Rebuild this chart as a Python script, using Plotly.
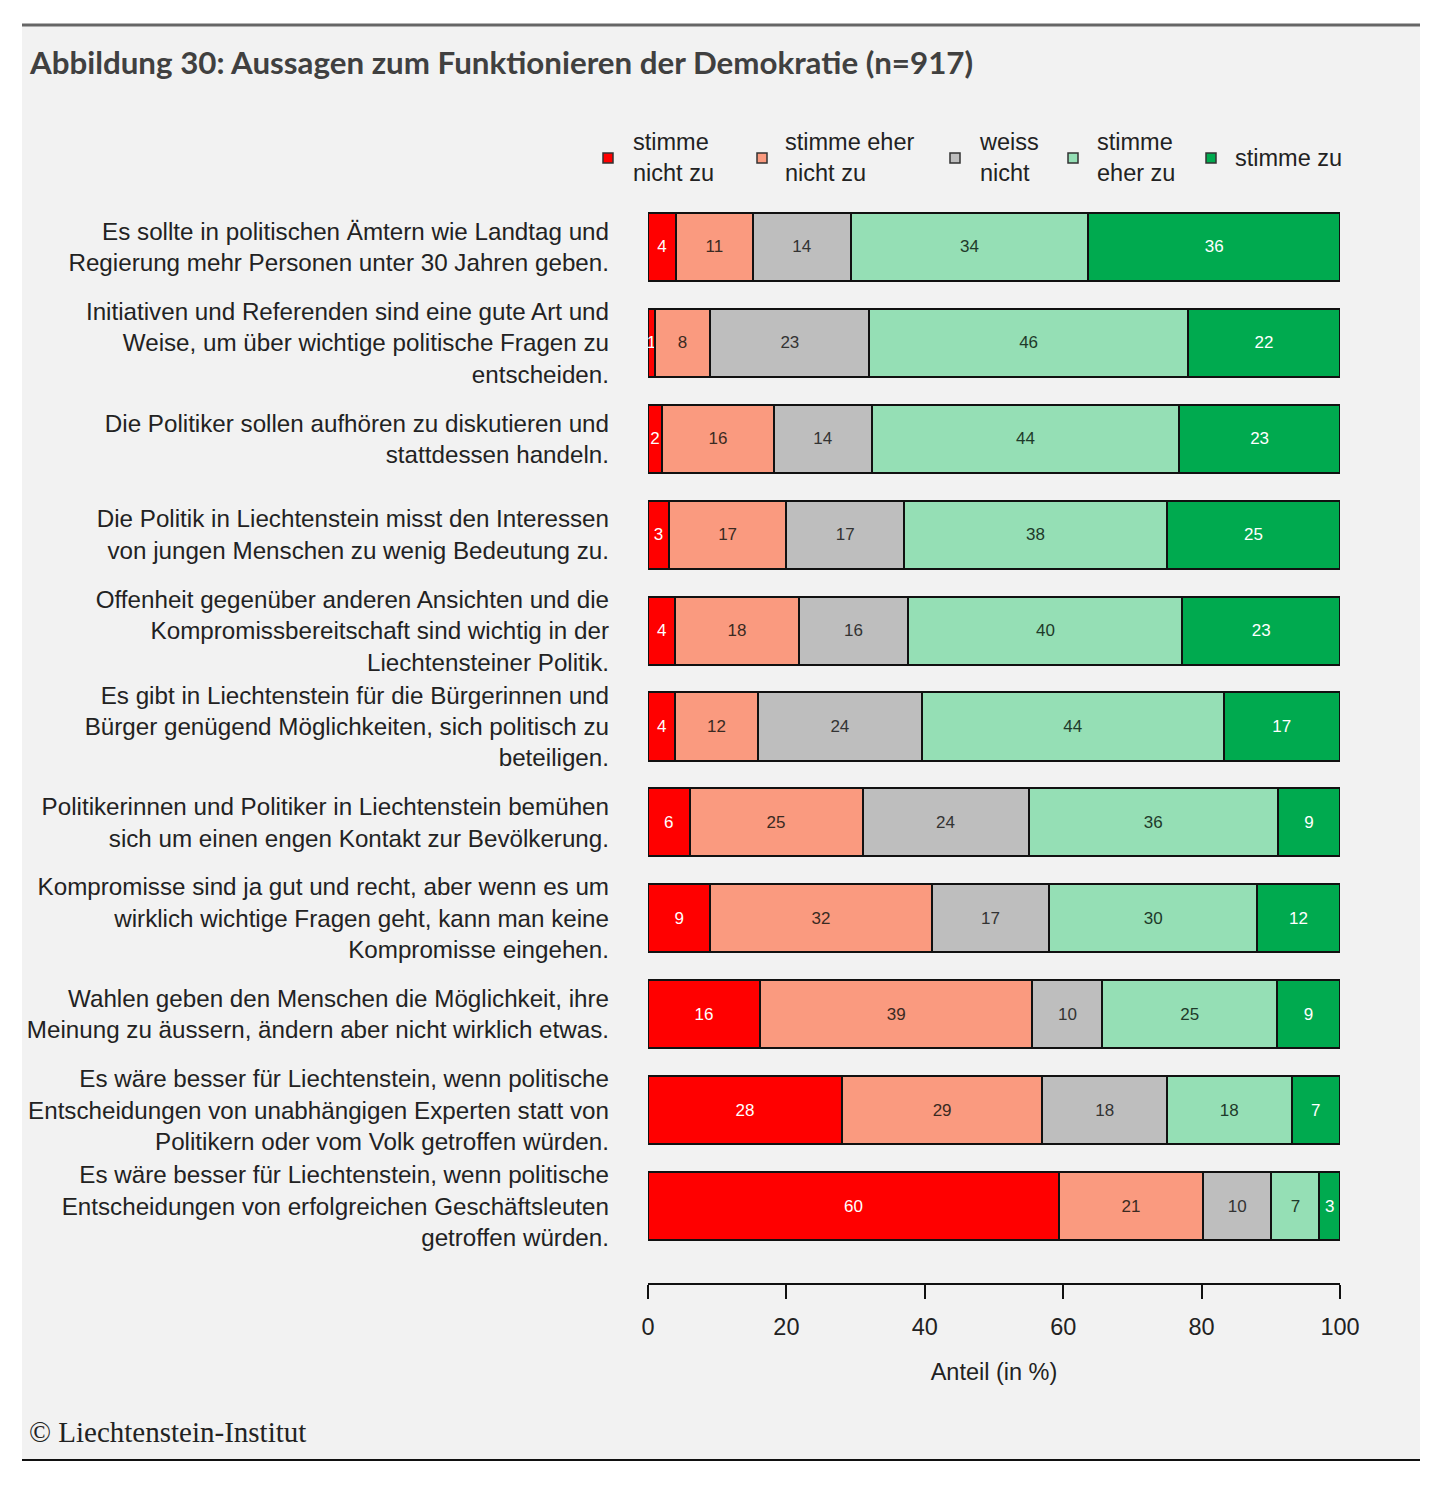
import plotly.graph_objects as go

statements = [
    "Es sollte in politischen Ämtern wie Landtag und<br>Regierung mehr Personen unter 30 Jahren geben.",
    "Initiativen und Referenden sind eine gute Art und<br>Weise, um über wichtige politische Fragen zu<br>entscheiden.",
    "Die Politiker sollen aufhören zu diskutieren und<br>stattdessen handeln.",
    "Die Politik in Liechtenstein misst den Interessen<br>von jungen Menschen zu wenig Bedeutung zu.",
    "Offenheit gegenüber anderen Ansichten und die<br>Kompromissbereitschaft sind wichtig in der<br>Liechtensteiner Politik.",
    "Es gibt in Liechtenstein für die Bürgerinnen und<br>Bürger genügend Möglichkeiten, sich politisch zu<br>beteiligen.",
    "Politikerinnen und Politiker in Liechtenstein bemühen<br>sich um einen engen Kontakt zur Bevölkerung.",
    "Kompromisse sind ja gut und recht, aber wenn es um<br>wirklich wichtige Fragen geht, kann man keine<br>Kompromisse eingehen.",
    "Wahlen geben den Menschen die Möglichkeit, ihre<br>Meinung zu äussern, ändern aber nicht wirklich etwas.",
    "Es wäre besser für Liechtenstein, wenn politische<br>Entscheidungen von unabhängigen Experten statt von<br>Politikern oder vom Volk getroffen würden.",
    "Es wäre besser für Liechtenstein, wenn politische<br>Entscheidungen von erfolgreichen Geschäftsleuten<br>getroffen würden.",
]

categories = ["stimme nicht zu", "stimme eher nicht zu", "weiss nicht", "stimme eher zu", "stimme zu"]
legend_labels = ["stimme<br>nicht zu", "stimme eher<br>nicht zu", "weiss<br>nicht", "stimme<br>eher zu", "stimme zu"]

stimme_nicht_zu      = [4, 1, 2, 3, 4, 4, 6, 9, 16, 28, 60]
stimme_eher_nicht_zu = [11, 8, 16, 17, 18, 12, 25, 32, 39, 29, 21]
weiss_nicht          = [14, 23, 14, 17, 16, 24, 24, 17, 10, 18, 10]
stimme_eher_zu       = [34, 46, 44, 38, 40, 44, 36, 30, 25, 18, 7]
stimme_zu            = [36, 22, 23, 25, 23, 17, 9, 12, 9, 7, 3]

series = [stimme_nicht_zu, stimme_eher_nicht_zu, weiss_nicht, stimme_eher_zu, stimme_zu]
colors = ["#ff0000", "#fa9a7f", "#bebebe", "#95dfb5", "#00aa4f"]
text_colors = ["white", "#3a2a22", "#333333", "#1e3a2a", "white"]

# rows are scaled to a full 100 % (rounded labels do not always add up to 100)
row_totals = [sum(v) for v in zip(*series)]

W, H = 1446, 1492
PX0, PX1 = 648, 1340
PY0, PY1 = 199, 1283

def px(x):
    return (x - PX0) / (PX1 - PX0)

def py(y):
    return (PY1 - y) / (PY1 - PY0)

fig = go.Figure()
ypos = list(range(len(statements)))
for name, vals, col, tcol in zip(categories, series, colors, text_colors):
    shares = [v / t * 100 for v, t in zip(vals, row_totals)]
    fig.add_trace(go.Bar(
        y=ypos, x=shares, orientation="h", name=name,
        marker=dict(color=col, line=dict(color="#111111", width=2)),
        width=0.71,
        text=[str(v) for v in vals],
        textposition="inside", insidetextanchor="middle",
        textfont=dict(family="Liberation Sans", size=17, color=tcol),
        showlegend=False, hoverinfo="skip",
    ))

fig.update_layout(
    width=W, height=H,
    barmode="stack",
    paper_bgcolor="white",
    plot_bgcolor="rgba(0,0,0,0)",
    margin=dict(l=PX0, r=W - PX1, t=PY0, b=H - PY1),
    uniformtext=dict(minsize=17, mode="show"),
    font=dict(family="Liberation Sans", color="#222222"),
    xaxis=dict(
        range=[0, 100], tickvals=[0, 20, 40, 60, 80, 100],
        showgrid=False, zeroline=False,
        showline=True, linecolor="#111111", linewidth=2,
        ticks="outside", ticklen=14, tickwidth=2, tickcolor="#111111",
        tickfont=dict(size=23.5, color="#222222"),
        ticklabelstandoff=8,
        title=dict(text="Anteil (in %)", font=dict(size=23.5, color="#222222"), standoff=24),
        fixedrange=True,
    ),
    yaxis=dict(
        range=[10.5 + 29 / 95.9, -0.5],
        tickvals=ypos, ticktext=statements,
        showgrid=False, zeroline=False, showline=False,
        ticks="", ticklabelstandoff=38,
        tickfont=dict(size=24.2, color="#222222"),
        fixedrange=True,
    ),
)

shapes = [
    dict(type="rect", xref="paper", yref="paper", x0=px(22), x1=px(1420), y0=py(1460), y1=py(25),
         fillcolor="#f2f2f2", line=dict(width=0), layer="below"),
    dict(type="line", xref="paper", yref="paper", x0=px(22), x1=px(1420), y0=py(25), y1=py(25),
         line=dict(color="#666666", width=3)),
    dict(type="line", xref="paper", yref="paper", x0=px(22), x1=px(1420), y0=py(1460), y1=py(1460),
         line=dict(color="#111111", width=2)),
]

annotations = [
    dict(text="<b>Abbildung 30: Aussagen zum Funktionieren der Demokratie (n=917)</b>",
         xref="paper", yref="paper", x=px(27), y=py(62), xanchor="left", yanchor="middle",
         showarrow=False, font=dict(family="Lato", size=31.3, color="#404040")),
    dict(text="© Liechtenstein-Institut",
         xref="paper", yref="paper", x=px(27), y=py(1432), xanchor="left", yanchor="middle",
         showarrow=False, font=dict(family="Liberation Serif", size=29, color="#222222")),
]

legend_marker_x = [608, 762, 955, 1073, 1211]
legend_text_x = [631, 783, 977, 1095, 1233]
for lx, tx, lab, col in zip(legend_marker_x, legend_text_x, legend_labels, colors):
    shapes.append(dict(type="rect", xref="paper", yref="paper",
                       x0=px(lx - 5), x1=px(lx + 5), y0=py(163), y1=py(153),
                       fillcolor=col, line=dict(color="#333333", width=1.5)))
    annotations.append(dict(text=lab, xref="paper", yref="paper", x=px(tx), y=py(158),
                            xanchor="left", yanchor="middle", align="left", showarrow=False,
                            font=dict(family="Liberation Sans", size=23.5, color="#222222")))

fig.update_layout(shapes=shapes, annotations=annotations)
fig.write_html("out.html", config={"displayModeBar": False},
               post_script="document.body.style.margin='0';")
